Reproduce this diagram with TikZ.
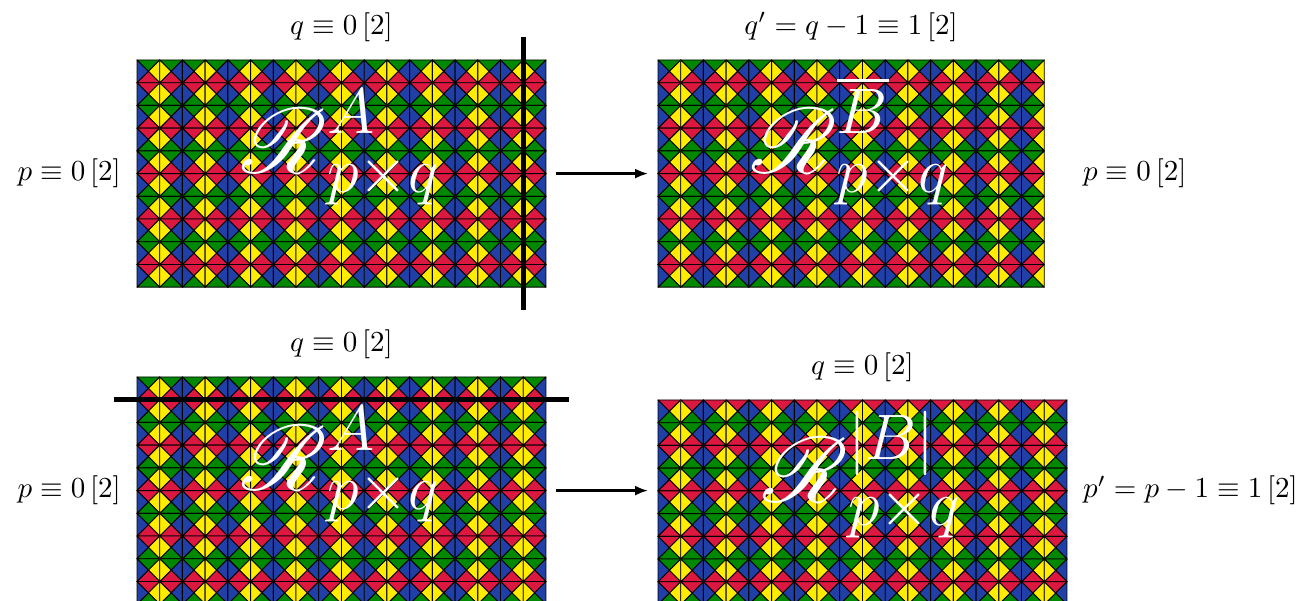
\documentclass[tikz,border=0pt]{standalone}
\usepackage{amsmath,amssymb}
\usepackage{mathrsfs}
\usepackage{graphicx}
\usepackage{xcolor}
\usepackage{tikz}
\usetikzlibrary{arrows.meta,positioning}

\definecolor{tileyellow}{RGB}{255,236,0}
\definecolor{tileblue}{RGB}{32,64,168}
\definecolor{tilegreen}{RGB}{0,136,0}
\definecolor{tilered}{RGB}{220,24,64}

\def\ts{22.72}
\newcommand{\bigR}{\mathord{\scalebox{1.2}{$\mathscr{R}$}}}

% tiles of one board: frame node, columns, rows, index of first row
\newcommand{\tilegrid}[4]{%
  \pgfmathtruncatemacro{\lastcol}{#2-1}%
  \pgfmathtruncatemacro{\lastrow}{#3-1}%
  \begin{scope}[shift={(#1.north west)}]
  \foreach \i in {0,...,\lastcol}{
    \foreach \j in {0,...,\lastrow}{
      \pgfmathtruncatemacro{\ci}{mod(\i,2)}
      \pgfmathtruncatemacro{\cj}{mod(\j+#4,2)}
      \ifnum\ci=0 \def\lc{tileblue}\def\rc{tileyellow}\else\def\lc{tileyellow}\def\rc{tileblue}\fi
      \ifnum\cj=0 \def\tc{tilegreen}\def\bc{tilered}\else\def\tc{tilered}\def\bc{tilegreen}\fi
      \begin{scope}[shift={(\i*\ts,\j*\ts)}]
        \filldraw[tri, fill=\tc] (0,0) -- (\ts,0) -- (\ts/2,\ts/2) -- cycle;
        \filldraw[tri, fill=\rc] (\ts,0) -- (\ts,\ts) -- (\ts/2,\ts/2) -- cycle;
        \filldraw[tri, fill=\bc] (0,\ts) -- (\ts,\ts) -- (\ts/2,\ts/2) -- cycle;
        \filldraw[tri, fill=\lc] (0,0) -- (0,\ts) -- (\ts/2,\ts/2) -- cycle;
      \end{scope}
    }
  }
  \end{scope}}

\begin{document}
\begin{tikzpicture}[
  x=1pt, y=-1pt,
  tri/.style={draw=black, line width=0.9pt, line join=round},
  board/.style={inner sep=0pt, outer sep=0pt, anchor=north west,
                minimum height=#1*\ts*1pt},
  board/.default=10,
  lbl/.style={scale=2.9},
  big/.style={font=\Huge, scale=3.1, text=white, anchor=base},
  cut/.style={draw, line width=5pt},
  arr/.style={draw, line width=2.2pt, -{Latex[length=13pt,width=10pt]}}
]
\useasboundingbox (0,0) rectangle (1302,601);

% the four boards
\node[board, minimum width=18*\ts*1pt] (gA) at (137,60) {};
\node[board, minimum width=17*\ts*1pt] (gB) at (658,60) {};
\node[board, minimum width=18*\ts*1pt] (gC) at (137,377) {};
\node[board=9, minimum width=18*\ts*1pt] (gD) at (658,400) {};

\tilegrid{gA}{18}{10}{0}
\tilegrid{gB}{17}{10}{0}
\tilegrid{gC}{18}{10}{0}
\tilegrid{gD}{18}{9}{1}

% cuts
\draw[cut] ([shift={(17*\ts,-\ts)}]gA.north west) -- ++(0,12*\ts);
\draw[cut] ([shift={(-\ts,\ts)}]gC.north west) -- ++(20*\ts,0);

% big names
\node[big] (nA) at (gA.center) {$\bigR^{A}_{p\times q}$};
\node[big] (nB) at (gB.center) {$\bigR^{\overline{B}}_{p\times q}$};
\node[big] (nC) at (gC.center) {$\bigR^{A}_{p\times q}$};
\node[big] (nD) at (gD.center) {$\bigR^{|B|}_{p\times q}$};

% sizes
\node[lbl, above=8pt of gA] (qA) {$q\equiv 0\,[2]$};
\node[lbl, above=8pt of gB] (qB) {$q'=q-1\equiv 1\,[2]$};
\node[lbl, above=8pt of gC] (qC) {$q\equiv 0\,[2]$};
\node[lbl, above=8pt of gD] (qD) {$q\equiv 0\,[2]$};
\node[lbl, left=6pt of gA] (pA) {$p\equiv 0\,[2]$};
\node[lbl, left=6pt of gC] (pC) {$p\equiv 0\,[2]$};
\coordinate (edgeB) at (gD.east |- gB.east);
\coordinate (edgeD) at (gD.east |- gC.east);
\node[lbl, right=6pt of edgeB] (pB) {$p\equiv 0\,[2]$};
\node[lbl, right=6pt of edgeD] (pD) {$p'=p-1\equiv 1\,[2]$};

% moves
\coordinate (toB) at (gA.east -| gB.west);
\coordinate (toD) at (gC.east -| gD.west);
\draw[arr] ([xshift=10pt]gA.east) -- ([xshift=-10pt]toB);
\draw[arr] ([xshift=10pt]gC.east) -- ([xshift=-10pt]toD);
\end{tikzpicture}
\end{document}
